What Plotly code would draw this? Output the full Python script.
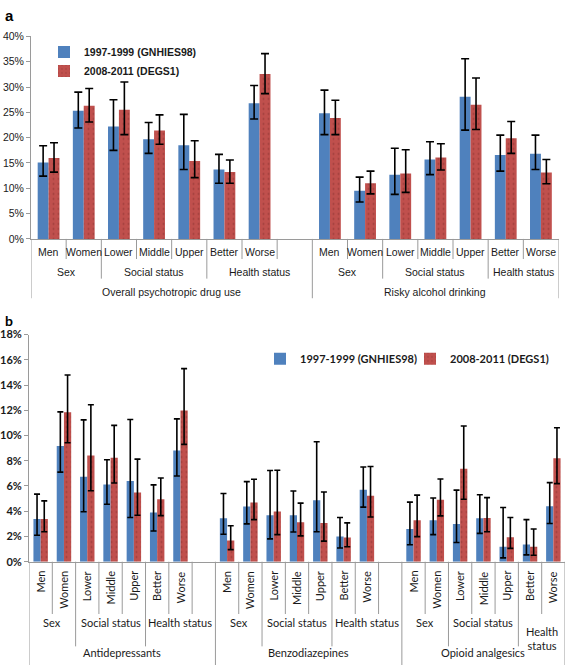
import plotly.graph_objects as go

W, H = 567, 671


def py(p):
    return 1 - p / H


# ---------------- data ----------------
items = ["Men", "Women", "Lower", "Middle", "Upper", "Better", "Worse"]
subgroups = ["Sex", "Social status", "Health status"]
groups_a = ["Overall psychotropic drug use", "Risky alcohol drinking"]
groups_b = ["Antidepressants", "Benzodiazepines", "Opioid analgesics"]
series = ["1997-1999 (GNHIES98)", "2008-2011 (DEGS1)"]

# Panel a (%)
blue_a = [15.1, 25.3, 22.2, 19.7, 18.5, 13.7, 26.8, 24.8, 9.5, 12.7, 15.7, 28.1, 16.6, 16.8]
blue_a_hi = [18.4, 29.0, 27.5, 23.0, 24.6, 16.7, 30.3, 29.4, 12.2, 17.9, 19.2, 35.6, 20.5, 20.5]
blue_a_lo = [12.4, 21.9, 17.5, 16.9, 13.7, 11.0, 23.7, 20.6, 7.3, 8.8, 12.7, 21.5, 13.4, 13.7]
red_a = [16.0, 26.3, 25.5, 21.4, 15.4, 13.2, 32.6, 23.9, 11.0, 12.9, 16.1, 26.5, 19.9, 13.1]
red_a_hi = [19.0, 29.7, 31.0, 24.5, 19.4, 15.6, 36.6, 27.4, 13.4, 17.6, 18.8, 31.8, 23.2, 15.7]
red_a_lo = [13.2, 23.1, 20.6, 18.7, 12.1, 11.0, 28.7, 20.6, 8.9, 9.2, 13.6, 21.6, 16.9, 10.9]

# Panel b (%)
blue_b = [3.39, 9.17, 6.74, 6.11, 6.40, 3.91, 8.81,
          3.45, 4.38, 3.68, 3.68, 4.87, 1.99, 5.70,
          2.59, 3.29, 2.98, 3.45, 1.19, 1.37, 4.40]
blue_b_hi = [5.36, 11.87, 11.24, 8.08, 11.27, 6.09, 11.32,
             5.41, 6.35, 7.23, 5.60, 9.51, 3.50, 7.51,
             4.72, 5.05, 5.67, 5.31, 4.30, 3.34, 6.27]
blue_b_lo = [2.10, 7.10, 3.96, 4.56, 3.50, 2.44, 6.79,
             2.18, 3.00, 1.81, 2.36, 2.38, 1.09, 4.33,
             1.35, 2.15, 1.53, 2.25, 0.31, 0.54, 3.03]
red_b = [3.39, 11.84, 8.42, 8.24, 5.49, 4.95, 11.99,
         1.68, 4.69, 3.99, 3.13, 3.06, 1.92, 5.23,
         3.29, 4.92, 7.36, 3.47, 1.94, 1.19, 8.19]
red_b_hi = [4.82, 14.79, 12.44, 10.80, 8.13, 6.63, 15.30,
            2.85, 6.53, 7.25, 4.64, 5.52, 3.08, 7.54,
            5.28, 6.55, 10.75, 5.08, 3.50, 2.59, 10.62]
red_b_lo = [2.38, 9.43, 5.62, 6.24, 3.68, 3.65, 9.30,
            0.96, 3.34, 2.15, 2.05, 1.63, 1.19, 3.55,
            1.99, 3.63, 4.95, 2.38, 1.06, 0.52, 6.19]

# ---------------- styles ----------------
BLUE = "#4F81BD"
RED = "#C0504D"
LINE = "#9a9a9a"
TXT = "#1a1a1a"
FA = "Liberation Sans"
FB = "Lato"


def positions(ngroups):
    return [k * 8 + i for k in range(ngroups) for i in range(7)]


def err(v, hi, lo, cap):
    return dict(type="data", symmetric=False,
                array=[h - x for x, h in zip(v, hi)],
                arrayminus=[x - l for x, l in zip(v, lo)],
                color="black", thickness=1.6, width=cap)


fig = go.Figure()

pa = positions(len(groups_a))
pb = positions(len(groups_b))

red_marker = dict(color=RED, line=dict(width=0),
                  pattern=dict(shape=".", fgcolor="#7d2c2a", size=5, solidity=0.12))

fig.add_trace(go.Bar(x=pa, y=blue_a, name=series[0], marker=dict(color=BLUE, line=dict(width=0)),
                     error_y=err(blue_a, blue_a_hi, blue_a_lo, 4), xaxis="x", yaxis="y", legend="legend"))
fig.add_trace(go.Bar(x=pa, y=red_a, name=series[1], marker=red_marker,
                     error_y=err(red_a, red_a_hi, red_a_lo, 4), xaxis="x", yaxis="y", legend="legend"))
fig.add_trace(go.Bar(x=pb, y=blue_b, name=series[0], marker=dict(color=BLUE, line=dict(width=0)),
                     error_y=err(blue_b, blue_b_hi, blue_b_lo, 3), xaxis="x2", yaxis="y2", legend="legend2"))
fig.add_trace(go.Bar(x=pb, y=red_b, name=series[1], marker=red_marker,
                     error_y=err(red_b, red_b_hi, red_b_lo, 3), xaxis="x2", yaxis="y2", legend="legend2"))

shapes = []
annotations = []


def build_axis_labels(xref, groups, base_px, inner_px, mid_px, outer_px,
                      item_y, sub_y, grp_y, font, fsize, rotated):
    n = len(groups)
    shapes.append(dict(type="line", xref=xref, yref="paper", x0=-0.5, x1=-0.5,
                       y0=py(base_px), y1=py(outer_px), line=dict(color=LINE, width=1)))
    for k, g in enumerate(groups):
        s = k * 8
        last = (k == n - 1)
        for i in range(6):
            end = mid_px if i in (1, 4) else inner_px
            xb = s + i + 0.5
            shapes.append(dict(type="line", xref=xref, yref="paper", x0=xb, x1=xb,
                               y0=py(base_px), y1=py(end), line=dict(color=LINE, width=1)))
        if last:
            xb = s + 6.5
            shapes.append(dict(type="line", xref=xref, yref="paper", x0=xb, x1=xb,
                               y0=py(base_px), y1=py(outer_px), line=dict(color=LINE, width=1)))
        else:
            for xb, end in ((s + 6.5, inner_px), (s + 7.5, outer_px)):
                shapes.append(dict(type="line", xref=xref, yref="paper", x0=xb, x1=xb,
                                   y0=py(base_px), y1=py(end), line=dict(color=LINE, width=1)))
        # item labels
        for i, it in enumerate(items):
            if rotated:
                annotations.append(dict(xref=xref, yref="paper", x=s + i, y=py(item_y),
                                        text=it, showarrow=False, textangle=-90,
                                        xanchor="center", yanchor="top",
                                        font=dict(family=font, size=fsize, color=TXT)))
            else:
                annotations.append(dict(xref=xref, yref="paper", x=s + i, y=py(item_y),
                                        text=it, showarrow=False, xanchor="center", yanchor="middle",
                                        font=dict(family=font, size=fsize, color=TXT)))
        # subgroup labels
        hx = s + 5.5 if last else s + 6
        htxt = subgroups[2]
        if last and rotated:
            htxt = "Health<br>status"
        for txt, x in ((subgroups[0], s + 0.5), (subgroups[1], s + 3), (htxt, hx)):
            annotations.append(dict(xref=xref, yref="paper", x=x, y=py(sub_y), text=txt,
                                    showarrow=False, xanchor="center",
                                    yanchor="top" if "<br>" in txt else "middle",
                                    font=dict(family=font, size=fsize, color=TXT)))
        gx = s + 3 if last else s + 3.5
        annotations.append(dict(xref=xref, yref="paper", x=gx, y=py(grp_y), text=g,
                                showarrow=False, xanchor="center", yanchor="middle",
                                font=dict(family=font, size=fsize, color=TXT)))


build_axis_labels("x", groups_a, 236.5, 257, 277, 297, 250, 270, 291, FA, 10.5, False)
build_axis_labels("x2", groups_b, 565.7, 619, 652, 671, 573, 628, 658, FB, 11, True)

annotations.append(dict(xref="paper", yref="paper", x=3 / W, y=py(9), text="<b>a</b>",
                        showarrow=False, xanchor="left", yanchor="middle",
                        font=dict(family=FA, size=15, color="black")))
annotations.append(dict(xref="paper", yref="paper", x=3 / W, y=py(320), text="<b>b</b>",
                        showarrow=False, xanchor="left", yanchor="middle",
                        font=dict(family=FB, size=14, color="black")))

axis_common = dict(showgrid=False, zeroline=False, fixedrange=True)

fig.update_layout(
    width=W, height=H,
    margin=dict(l=0, r=0, t=0, b=0),
    paper_bgcolor="white", plot_bgcolor="white",
    barmode="group", bargap=0.38, bargroupgap=0,
    xaxis=dict(domain=[31 / W, 558.5 / W], range=[-0.5, 14.5], anchor="y",
               showline=True, linecolor=LINE, linewidth=1, ticks="", showticklabels=False, **axis_common),
    yaxis=dict(domain=[py(236.5), py(30)], range=[0, 40], dtick=5, ticksuffix="%", anchor="x",
               showline=True, linecolor=LINE, linewidth=1, ticks="outside", ticklen=4, tickcolor=LINE,
               tickfont=dict(family=FA, size=10.5, color=TXT), **axis_common),
    xaxis2=dict(domain=[29 / W, 565 / W], range=[-0.5, 22.5], anchor="y2",
                showline=True, linecolor=LINE, linewidth=1, ticks="", showticklabels=False, **axis_common),
    yaxis2=dict(domain=[py(565.7), py(334)], range=[0, 18], dtick=2, ticksuffix="%", anchor="x2",
                showline=True, linecolor=LINE, linewidth=1, ticks="outside", ticklen=4, tickcolor=LINE,
                tickfont=dict(family=FB, size=11, color=TXT, weight="bold"), **axis_common),
    legend=dict(x=44 / W, y=py(31), xanchor="left", yanchor="top", orientation="v",
                bgcolor="rgba(0,0,0,0)", itemwidth=30,
                font=dict(family=FA, size=10.5, color=TXT, weight="bold")),
    legend2=dict(x=260 / W, y=py(344), xanchor="left", yanchor="top", orientation="h",
                 bgcolor="rgba(0,0,0,0)", itemwidth=30, entrywidth=105, entrywidthmode="pixels",
                 font=dict(family=FB, size=11, color=TXT, weight="bold")),
    shapes=shapes,
    annotations=annotations,
)

fig.write_html("out.html", config={"displayModeBar": False},
               post_script="document.body.style.margin='0px';document.body.style.overflow='hidden';")
